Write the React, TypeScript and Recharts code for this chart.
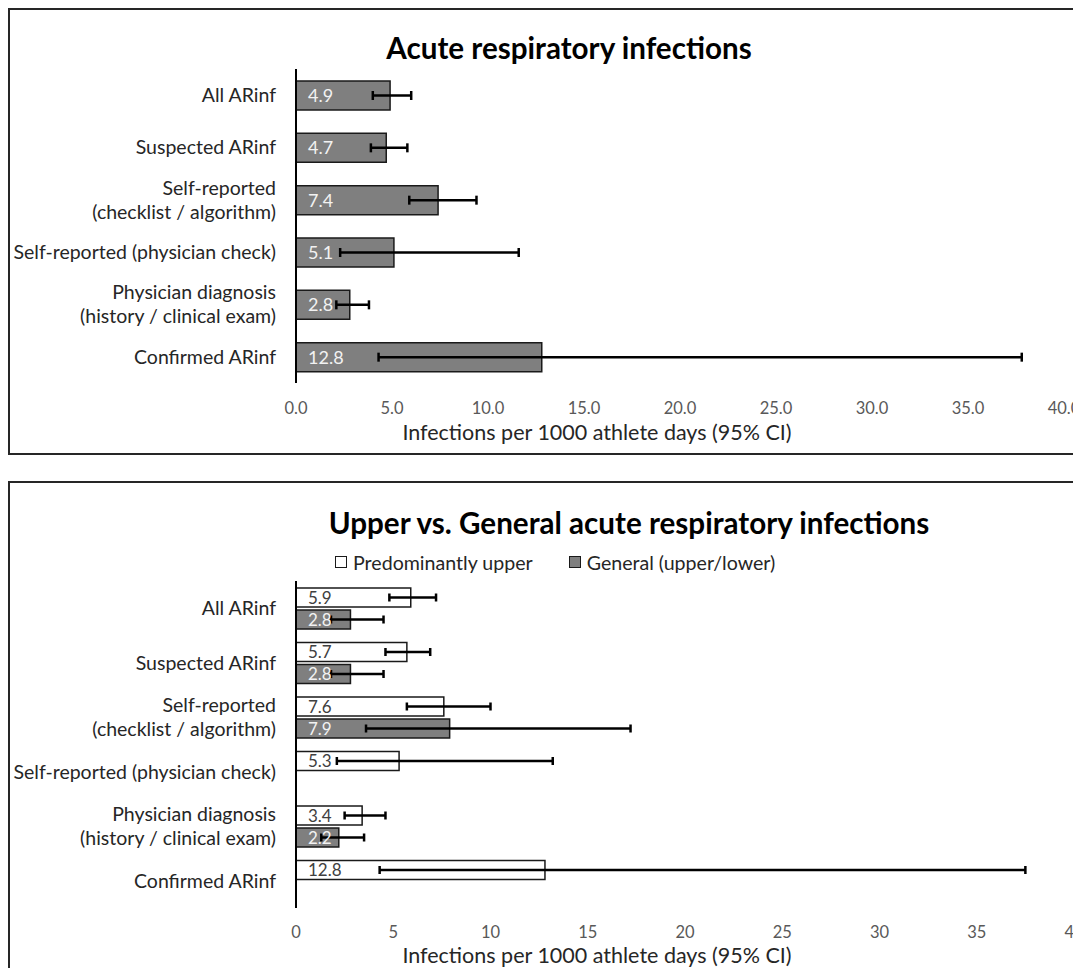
import React from 'react';
import { BarChart, Bar, XAxis, YAxis, ErrorBar, LabelList } from 'recharts';

const categories = [
  'All ARinf',
  'Suspected ARinf',
  'Self-reported\n(checklist / algorithm)',
  'Self-reported (physician check)',
  'Physician diagnosis\n(history / clinical exam)',
  'Confirmed ARinf',
];

const allValues = [4.9, 4.7, 7.4, 5.1, 2.8, 12.8];
const allLow = [4.0, 3.9, 5.9, 2.3, 2.1, 4.3];
const allHigh = [6.0, 5.8, 9.4, 11.6, 3.8, 37.8];

const upperValues = [5.9, 5.7, 7.6, 5.3, 3.4, 12.8];
const upperLow = [4.8, 4.6, 5.7, 2.1, 2.5, 4.3];
const upperHigh = [7.2, 6.9, 10.0, 13.2, 4.6, 37.5];

const generalValues: (number | null)[] = [2.8, 2.8, 7.9, null, 2.2, null];
const generalLow: (number | null)[] = [1.8, 1.8, 3.6, null, 1.3, null];
const generalHigh: (number | null)[] = [4.5, 4.5, 17.2, null, 3.5, null];

const xTicks = [0, 5, 10, 15, 20, 25, 30, 35, 40];

const topTitle = 'Acute respiratory infections';
const bottomTitle = 'Upper vs. General acute respiratory infections';
const axisTitle = 'Infections per 1000 athlete days (95% CI)';
const seriesNames = ['Predominantly upper', 'General (upper/lower)'];

const FONT = 'Lato, "Open Sans", sans-serif';
const GRAY = '#7f7f7f';
const EDGE = '#1a1a1a';

const err = (v: number | null, lo: number | null, hi: number | null) =>
  v == null || lo == null || hi == null ? null : [v - lo, hi - v];

const topData = categories.map((name, i) => ({
  name,
  all: allValues[i],
  allErr: err(allValues[i], allLow[i], allHigh[i]),
}));

const bottomData = categories.map((name, i) => ({
  name,
  upper: upperValues[i],
  upperErr: err(upperValues[i], upperLow[i], upperHigh[i]),
  general: generalValues[i],
  generalErr: err(generalValues[i], generalLow[i], generalHigh[i]),
}));

function CatTick(props: any) {
  const { x, y, payload } = props;
  const lines = String(payload.value).split('\n');
  const lh = 24;
  const start = -((lines.length - 1) * lh) / 2;
  return (
    <text x={x} y={y} textAnchor="end" fontFamily={FONT} fontSize={19.5} fill="#262626">
      {lines.map((l, i) => (
        <tspan key={i} x={x} y={y + start + i * lh} dy="0.35em">
          {l}
        </tspan>
      ))}
    </text>
  );
}

function makeNumTick(decimals: number) {
  return (props: any) => {
    const { x, y, payload } = props;
    return (
      <text x={x} y={y} textAnchor="middle" dy="0.35em" fontFamily={FONT} fontSize={16.5} fill="#595959">
        {Number(payload.value).toFixed(decimals)}
      </text>
    );
  };
}

const fmt1 = (v: any) => (v == null ? '' : Number(v).toFixed(1));

const abs = (left: number, top: number, extra: React.CSSProperties = {}): React.CSSProperties => ({
  position: 'absolute',
  left,
  top,
  ...extra,
});

const square = (bg: string): React.CSSProperties => ({
  width: 12,
  height: 12,
  border: '1.5px solid #1a1a1a',
  background: bg,
  display: 'inline-block',
  boxSizing: 'border-box',
  marginRight: 6,
});

export default function App() {
  return (
    <div style={{ position: 'relative', width: 1073, height: 960, overflow: 'hidden', fontFamily: FONT, background: '#fff' }}>
      <style>{'html,body{overflow:hidden}'}</style>
      {/* top box */}
      <div style={abs(0, 0, { width: 1130, height: 447, border: '2px solid #262626', boxSizing: 'border-box' })} />
      {/* bottom box */}
      <div style={abs(0, 473, { width: 1190, height: 520, border: '2px solid #262626', boxSizing: 'border-box' })} />

      {/* top chart */}
      <div style={abs(0, 0)}>
        <BarChart
          width={1073}
          height={446}
          data={topData}
          layout="vertical"
          margin={{ top: 61, right: 17, bottom: 31, left: 0 }}
          barSize={29}
        >
          <XAxis
            type="number"
            domain={[0, 40]}
            ticks={xTicks}
            axisLine={false}
            tickLine={false}
            tickSize={0}
            tickMargin={25}
            height={40}
            interval={0}
            tick={makeNumTick(1)}
          />
          <YAxis
            type="category"
            dataKey="name"
            width={288}
            axisLine={{ stroke: '#000', strokeWidth: 2 }}
            tickLine={false}
            tickSize={0}
            tickMargin={20}
            interval={0}
            tick={<CatTick />}
          />
          <Bar dataKey="all" fill={GRAY} stroke={EDGE} strokeWidth={1.5} isAnimationActive={false}>
            <LabelList dataKey="all" position="insideLeft" offset={12} fill="#f2f2f2" fontSize={18} fontFamily={FONT} formatter={fmt1} />
            <ErrorBar dataKey="allErr" direction="x" width={4.5} stroke="#000" strokeWidth={2.5} isAnimationActive={false} />
          </Bar>
        </BarChart>
      </div>
      <div style={abs(561, 39, { transform: 'translate(-50%,-50%)', fontSize: 29.6, fontWeight: 700, color: '#000', whiteSpace: 'nowrap' })}>
        {topTitle}
      </div>
      <div style={abs(589, 424, { transform: 'translate(-50%,-50%)', fontSize: 21.5, color: '#262626', whiteSpace: 'nowrap' })}>
        {axisTitle}
      </div>

      {/* bottom chart */}
      <div style={abs(0, 474)}>
        <BarChart
          width={1073}
          height={486}
          data={bottomData}
          layout="vertical"
          margin={{ top: 99, right: 7, bottom: 20, left: 0 }}
          barSize={19}
          barGap={3}
        >
          <XAxis
            type="number"
            domain={[0, 40]}
            ticks={xTicks}
            axisLine={false}
            tickLine={false}
            tickSize={0}
            tickMargin={24}
            height={40}
            interval={0}
            tick={makeNumTick(0)}
          />
          <YAxis
            type="category"
            dataKey="name"
            width={288}
            axisLine={{ stroke: '#000', strokeWidth: 2 }}
            tickLine={false}
            tickSize={0}
            tickMargin={20}
            interval={0}
            tick={<CatTick />}
          />
          <Bar dataKey="upper" name={seriesNames[0]} fill="#ffffff" stroke={EDGE} strokeWidth={1.5} isAnimationActive={false}>
            <LabelList dataKey="upper" position="insideLeft" offset={12} fill="#404040" fontSize={17} fontFamily={FONT} formatter={fmt1} />
            <ErrorBar dataKey="upperErr" direction="x" width={4} stroke="#000" strokeWidth={2.5} isAnimationActive={false} />
          </Bar>
          <Bar dataKey="general" name={seriesNames[1]} fill={GRAY} stroke={EDGE} strokeWidth={1.5} isAnimationActive={false}>
            <LabelList dataKey="general" position="insideLeft" offset={12} fill="#f2f2f2" fontSize={17} fontFamily={FONT} formatter={fmt1} />
            <ErrorBar dataKey="generalErr" direction="x" width={4} stroke="#000" strokeWidth={2.5} isAnimationActive={false} />
          </Bar>
        </BarChart>
      </div>
      <div style={abs(621, 514, { transform: 'translate(-50%,-50%)', fontSize: 29.6, fontWeight: 700, color: '#000', whiteSpace: 'nowrap' })}>
        {bottomTitle}
      </div>
      {/* legend */}
      <div style={abs(327, 537, { display: 'flex', alignItems: 'center', height: 34, fontSize: 19.6, color: '#262626', whiteSpace: 'nowrap' })}>
        <span style={square('#ffffff')} />
        <span style={{ marginRight: 36 }}>{seriesNames[0]}</span>
        <span style={square(GRAY)} />
        <span>{seriesNames[1]}</span>
      </div>
      <div style={abs(589, 947, { transform: 'translate(-50%,-50%)', fontSize: 21.5, color: '#262626', whiteSpace: 'nowrap' })}>
        {axisTitle}
      </div>
    </div>
  );
}
